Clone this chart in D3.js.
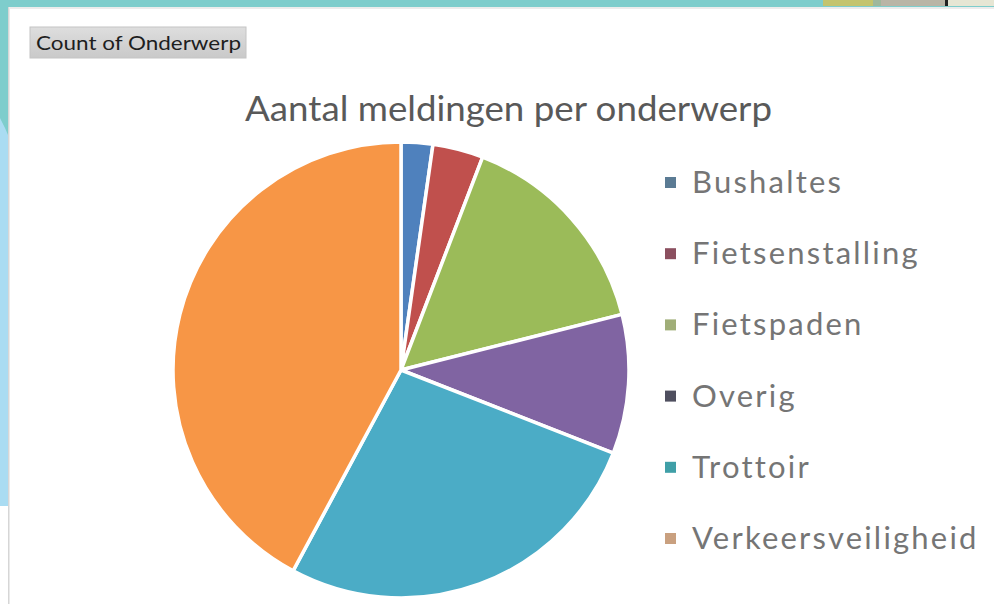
<!DOCTYPE html>
<html>
<head>
<meta charset="utf-8">
<script src="https://cdn.jsdelivr.net/npm/d3@7/dist/d3.min.js"></script>
<style>
  html, body { margin: 0; padding: 0; background: #fff; }
  svg { display: block; }
</style>
</head>
<body>
<svg id="chart" width="994" height="604"></svg>
<script>
// ---- data ----
const categories = ["Bushaltes", "Fietsenstalling", "Fietspaden", "Overig", "Trottoir", "Verkeersveiligheid"];
const counts = [5, 8, 34, 22, 60, 94];
const sliceColors = ["#4F81BD", "#C0504D", "#9BBB59", "#8064A2", "#4BACC6", "#F79646"];
const legendColors = ["#5b7b94", "#8b4f5f", "#a0ae78", "#4f4f5f", "#3f9fa7", "#c9a07f"];
const chartTitle = "Aantal meldingen per onderwerp";
const fieldButton = "Count of Onderwerp";

const svg = d3.select("#chart");
const W = 994, H = 604;

// ---- surrounding screenshot frame ----
svg.append("rect").attr("x", 0).attr("y", 0).attr("width", W).attr("height", H).attr("fill", "#ffffff");
svg.append("rect").attr("x", 0).attr("y", 0).attr("width", W).attr("height", 7).attr("fill", "#7ecdcc");
svg.append("rect").attr("x", 823).attr("y", 0).attr("width", 50).attr("height", 6).attr("fill", "#c3c46e");
svg.append("rect").attr("x", 873).attr("y", 0).attr("width", 8).attr("height", 6).attr("fill", "#9fb89c");
svg.append("rect").attr("x", 881).attr("y", 0).attr("width", 64).attr("height", 6).attr("fill", "#b9b5a6");
svg.append("rect").attr("x", 945).attr("y", 0).attr("width", 3).attr("height", 6).attr("fill", "#222");
svg.append("rect").attr("x", 948).attr("y", 0).attr("width", 46).attr("height", 6).attr("fill", "#e6e6d4");
svg.append("rect").attr("x", 0).attr("y", 0).attr("width", 8).attr("height", 506).attr("fill", "#aadcf2");
svg.append("path").attr("d", "M0,0 L8,0 L8,135 L5,128 L0,118 Z").attr("fill", "#7ecdcc");
svg.append("rect").attr("x", 8).attr("y", 7).attr("width", 1.5).attr("height", H - 7).attr("fill", "#d6d6d6");
svg.append("rect").attr("x", 9).attr("y", 7).attr("width", W - 9).attr("height", 2).attr("fill", "#ececec");

// ---- field button ----
const grad = svg.append("defs").append("linearGradient").attr("id", "btn").attr("x1", 0).attr("y1", 0).attr("x2", 0).attr("y2", 1);
grad.append("stop").attr("offset", "0%").attr("stop-color", "#dedede");
grad.append("stop").attr("offset", "100%").attr("stop-color", "#c9c9c9");
svg.append("rect").attr("x", 30).attr("y", 27).attr("width", 216).attr("height", 31)
  .attr("fill", "url(#btn)").attr("stroke", "#c4c4c4").attr("stroke-width", 1);
svg.append("text").attr("x", 36).attr("y", 50)
  .attr("font-family", "Lato, 'Open Sans', sans-serif").attr("font-size", 19)
  .attr("fill", "#1e1e1e").attr("textLength", 205).attr("lengthAdjust", "spacingAndGlyphs")
  .text(fieldButton);

// ---- title ----
svg.append("text").attr("x", 245).attr("y", 121)
  .attr("font-family", "Lato, 'Open Sans', sans-serif").attr("font-size", 34)
  .attr("fill", "#595959").attr("textLength", 527).attr("lengthAdjust", "spacingAndGlyphs")
  .text(chartTitle);

// ---- pie ----
const cx = 401, cy = 370, R = 228;
const pie = d3.pie().sort(null).value(d => d)(counts);
const arc = d3.arc().innerRadius(0).outerRadius(R);
const color = d3.scaleOrdinal().domain(categories).range(sliceColors);
const g = svg.append("g").attr("transform", `translate(${cx},${cy})`);
g.selectAll("path").data(pie).join("path")
  .attr("d", arc)
  .attr("fill", (d, i) => color(categories[i]))
  .attr("stroke", "#ffffff").attr("stroke-width", 3.5).attr("stroke-linejoin", "round");

// ---- legend ----
const legendY = d3.scalePoint().domain(categories).range([182, 538]);
const legendColor = d3.scaleOrdinal().domain(categories).range(legendColors);
const lg = svg.append("g");
const items = lg.selectAll("g").data(categories).join("g")
  .attr("transform", d => `translate(0,${legendY(d)})`);
items.append("rect").attr("x", 665).attr("y", -5).attr("width", 11).attr("height", 11)
  .attr("fill", d => legendColor(d));
items.append("text").attr("x", 692).attr("y", 11)
  .attr("font-family", "Lato, 'Open Sans', sans-serif").attr("font-size", 31)
  .attr("fill", "#757575").attr("letter-spacing", 2.2)
  .text(d => d);
</script>
</body>
</html>
